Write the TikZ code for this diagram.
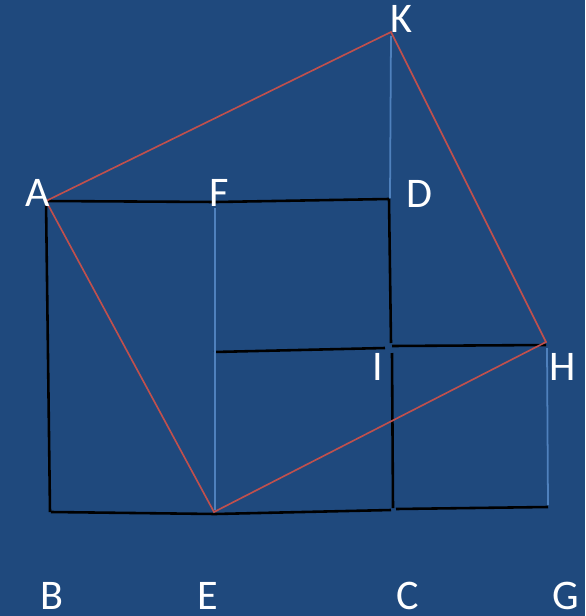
\documentclass[tikz,border=0pt]{standalone}
\usepackage{fontspec}
\setmainfont{Carlito}
\usepackage{tikz}
\usetikzlibrary{positioning}
\definecolor{bgColor}{RGB}{31,73,125}
\definecolor{blueColor}{RGB}{79,129,189}
\definecolor{redColor}{RGB}{192,80,77}
\tikzstyle{figure} = [x = .03cm, y = -.03cm]
\tikzstyle{blackLine} = [color=black, line width=2.2pt]
\tikzstyle{blueLine} = [color=blueColor, line width=1.5pt]
\tikzstyle{redLine} = [color=redColor, line width=1.4pt]
\tikzstyle{pointLabel} = [text=white, inner sep=0pt, font=\fontsize{36}{40}\selectfont]
\newcommand{\pointName}[3]{\node [pointLabel] (label#1) at (#2,#3) {#1};}

\begin{document}
\begin{tikzpicture}[figure]
      \useasboundingbox [fill=bgColor] (0,0) rectangle (585,616);

      % corners of the figure
      \coordinate (A) at (46,201);
      \coordinate (K) at (391,32);
      \coordinate (H) at (546,342);
      \coordinate (E) at (214,512);

      % black squares
      \draw [blackLine] (A) -- (216,202) -- (389,199);
      \draw [blackLine] (A) -- (50,512);
      \draw [blackLine] (51,512) -- (215,514) -- (391,510);
      \draw [blackLine] (389,199) -- (391,343);
      \draw [blackLine] (392,353) -- (393,508);
      \draw [blackLine] (214,352) -- (385,348);
      \draw [blackLine] (392,346) -- (546,345);
      \draw [blackLine] (396,509) -- (548,507);

      % blue lines
      \draw [blueLine] (215,208) -- (215,510);
      \draw [blueLine] (391,36) -- (390,198);
      \draw [blueLine] (547,348) -- (548,505);

      % red square
      \draw [redLine] (A) -- (K) -- (H) -- (E) -- cycle;

      \pointName{K}{401}{19}
      \pointName{A}{38}{193}
      \pointName{F}{219}{193}
      \pointName{D}{419}{194}
      \pointName{I}{378}{367}
      \pointName{H}{563}{367}
      \pointName{B}{52}{596}
      \pointName{E}{208}{596}
      \pointName{C}{408}{596}
      \pointName{G}{566}{596}
    \end{tikzpicture}
\end{document}
